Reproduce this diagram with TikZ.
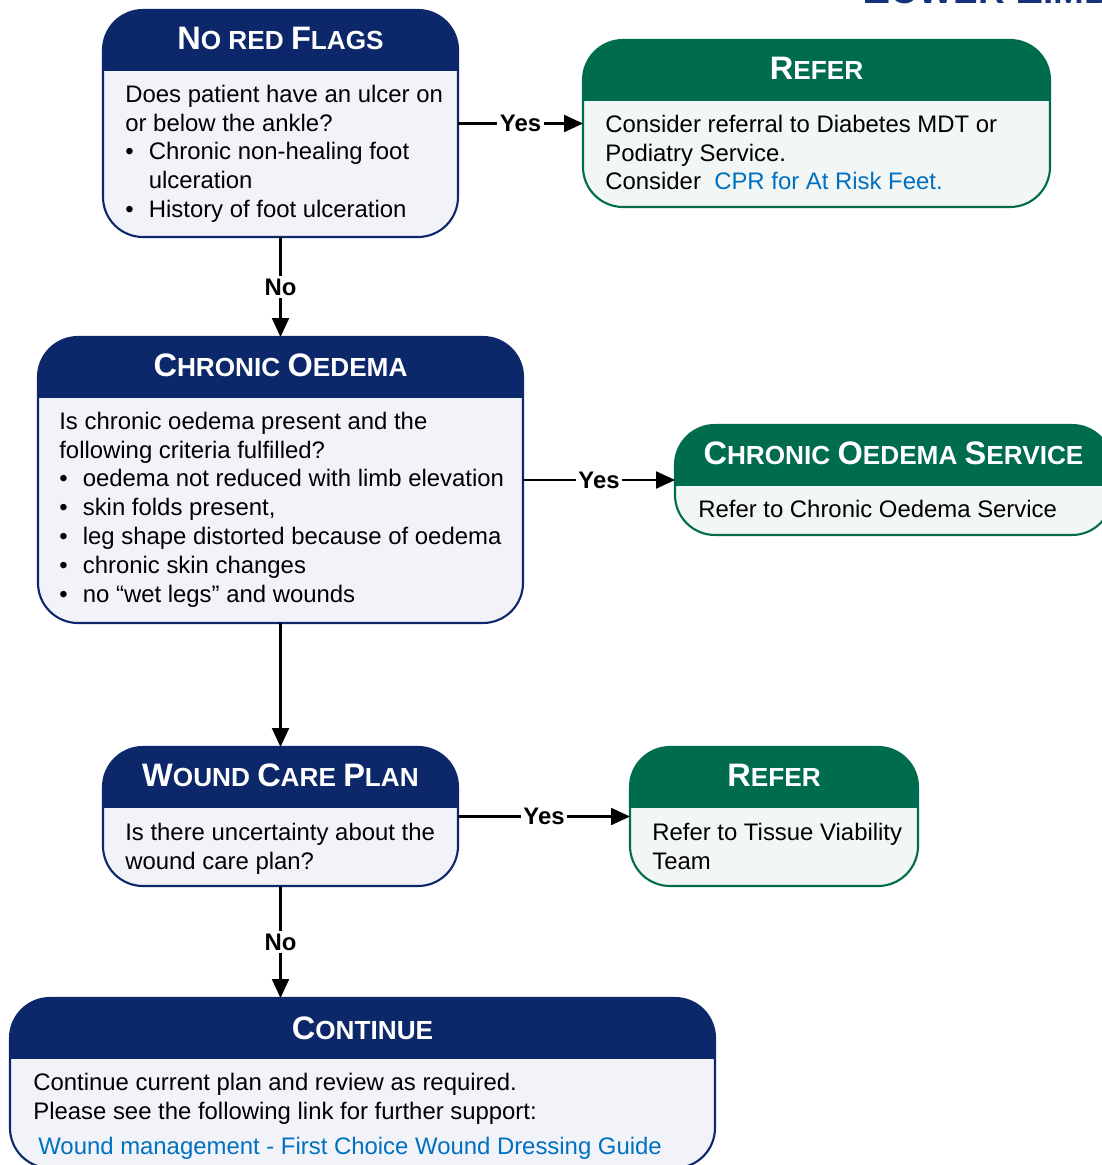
\documentclass[tikz,border=0pt]{standalone}
\usepackage{fontspec}
\setmainfont{Liberation Sans}
\usepackage{tikz}
\usetikzlibrary{positioning,arrows.meta}

\definecolor{navy}{RGB}{12,40,106}
\definecolor{navyfill}{RGB}{242,243,248}
\definecolor{flowgreen}{RGB}{0,108,78}
\definecolor{greenfill}{RGB}{242,246,245}
\definecolor{linkblue}{RGB}{0,112,192}
\definecolor{titleblue}{RGB}{22,50,122}

\newcommand{\headfont}{\fontsize{14.9}{17}\selectfont\bfseries}
\newcommand{\bodyfont}{\fontsize{13.6}{16.44}\selectfont}
\newcommand{\Ini}[1]{{\fontsize{18.5}{17}\selectfont #1}}
\newcommand{\bul}{\makebox[0.47cm][l]{\textbullet}}
\newcommand{\bulind}{\hspace*{0.47cm}}

\begin{document}
\begin{tikzpicture}[
    box/.style={rectangle, rounded corners=0.8cm, line width=1.2pt, inner sep=0pt, outer sep=0pt},
    navybox/.style={box, draw=navy, fill=navyfill,
      path picture={\fill[navy, sharp corners] (path picture bounding box.north west) rectangle ([yshift=-1.22cm]path picture bounding box.north east);}},
    greenbox/.style={box, draw=flowgreen, fill=greenfill,
      path picture={\fill[flowgreen, sharp corners] (path picture bounding box.north west) rectangle ([yshift=-1.22cm]path picture bounding box.north east);}},
    head/.style={text=white, font=\headfont, inner sep=0pt},
    body/.style={anchor=north west, inner sep=0pt, align=left, font=\bodyfont},
    answer/.style={font=\bodyfont\bfseries, fill=white, inner sep=1.5pt},
    flow/.style={line width=1.3pt, -{Triangle[length=0.38cm,width=0.34cm]}}]
    \useasboundingbox (0,0) rectangle (22.02,-23.3);

    % page title, cut by the top edge
    \node[anchor=base west, inner sep=0pt, text=titleblue, font=\fontsize{21}{21}\selectfont\bfseries] (pagetitle) at (17.24,-0.07)
        {{\fontsize{26}{26}\selectfont L}OWER {\fontsize{26}{26}\selectfont L}IMB};

    % boxes
    \node[navybox, minimum width=7.1cm, minimum height=4.54cm] (nrf) at (5.61,-2.47) {};
    \node[greenbox, minimum width=9.34cm, minimum height=3.34cm, right=2.5cm of nrf] (refer1) {};
    \node[navybox, minimum width=9.7cm, minimum height=5.72cm, below=2cm of nrf] (oedema) {};
    \node[greenbox, minimum width=8.74cm, minimum height=2.2cm, right=3.04cm of oedema] (service) {};
    \node[navybox, minimum width=7.1cm, minimum height=2.78cm, below=2.48cm of oedema] (woundplan) {};
    \node[greenbox, minimum width=5.76cm, minimum height=2.78cm, right=3.44cm of woundplan] (refer2) {};
    \node[navybox, minimum width=14.1cm, minimum height=3.4cm, below=2.24cm of woundplan, xshift=1.64cm] (continue) {};

    % titles
    \node[head] (nrfhead) at ([yshift=-0.57cm]nrf.north) {\Ini{N}O RED \Ini{F}LAGS};
    \node[head] (refer1head) at ([yshift=-0.57cm]refer1.north) {\Ini{R}EFER};
    \node[head] (oedemahead) at ([yshift=-0.57cm]oedema.north) {\Ini{C}HRONIC \Ini{O}EDEMA};
    \node[head] (servicehead) at ([yshift=-0.57cm]service.north) {\Ini{C}HRONIC \Ini{O}EDEMA \Ini{S}ERVICE};
    \node[head] (woundplanhead) at ([yshift=-0.57cm]woundplan.north) {\Ini{W}OUND \Ini{C}ARE \Ini{P}LAN};
    \node[head] (refer2head) at ([yshift=-0.57cm]refer2.north) {\Ini{R}EFER};
    \node[head] (continuehead) at ([yshift=-0.6cm]continue.north) {\Ini{C}ONTINUE};

    % texts
    \node[body] (nrftext) at ([shift={(0.44,-1.49)}]nrf.north west)
        {Does patient have an ulcer on\\or below the ankle?\\\bul Chronic non-healing foot\\\bulind ulceration\\\bul History of foot ulceration};
    \node[body] (refer1text) at ([shift={(0.44,-1.49)}]refer1.north west)
        {Consider referral to Diabetes MDT or\\Podiatry Service.\\Consider\ \ {\color{linkblue}CPR for At Risk Feet.}};
    \node[body] (oedematext) at ([shift={(0.42,-1.49)}]oedema.north west)
        {Is chronic oedema present and the\\following criteria fulfilled?\\\bul oedema not reduced with limb elevation\\\bul skin folds present,\\\bul leg shape distorted because of oedema\\\bul chronic skin changes\\\bul no “wet legs” and wounds};
    \node[body] (servicetext) at ([shift={(0.46,-1.49)}]service.north west)
        {Refer to Chronic Oedema Service};
    \node[body] (woundplantext) at ([shift={(0.44,-1.51)}]woundplan.north west)
        {Is there uncertainty about the\\wound care plan?};
    \node[body] (refer2text) at ([shift={(0.44,-1.51)}]refer2.north west)
        {Refer to Tissue Viability\\Team};
    \node[body] (continuetext) at ([shift={(0.46,-1.49)}]continue.north west)
        {Continue current plan and review as required.\\Please see the following link for further support:\\[0.14cm]\hspace*{0.1cm}{\color{linkblue}Wound management - First Choice Wound Dressing Guide}};

    % connectors
    \draw[flow] (nrf) -- node[answer] {Yes} (refer1);
    \draw[flow] (nrf) -- node[answer] {No} (oedema);
    \draw[flow] (oedema) -- node[answer] {Yes} (service);
    \draw[flow] (oedema) -- (woundplan);
    \draw[flow] (woundplan) -- node[answer] {Yes} (refer2);
    \draw[flow] (woundplan.south) -- node[answer] {No} (woundplan.south |- continue.north);
\end{tikzpicture}
\end{document}
